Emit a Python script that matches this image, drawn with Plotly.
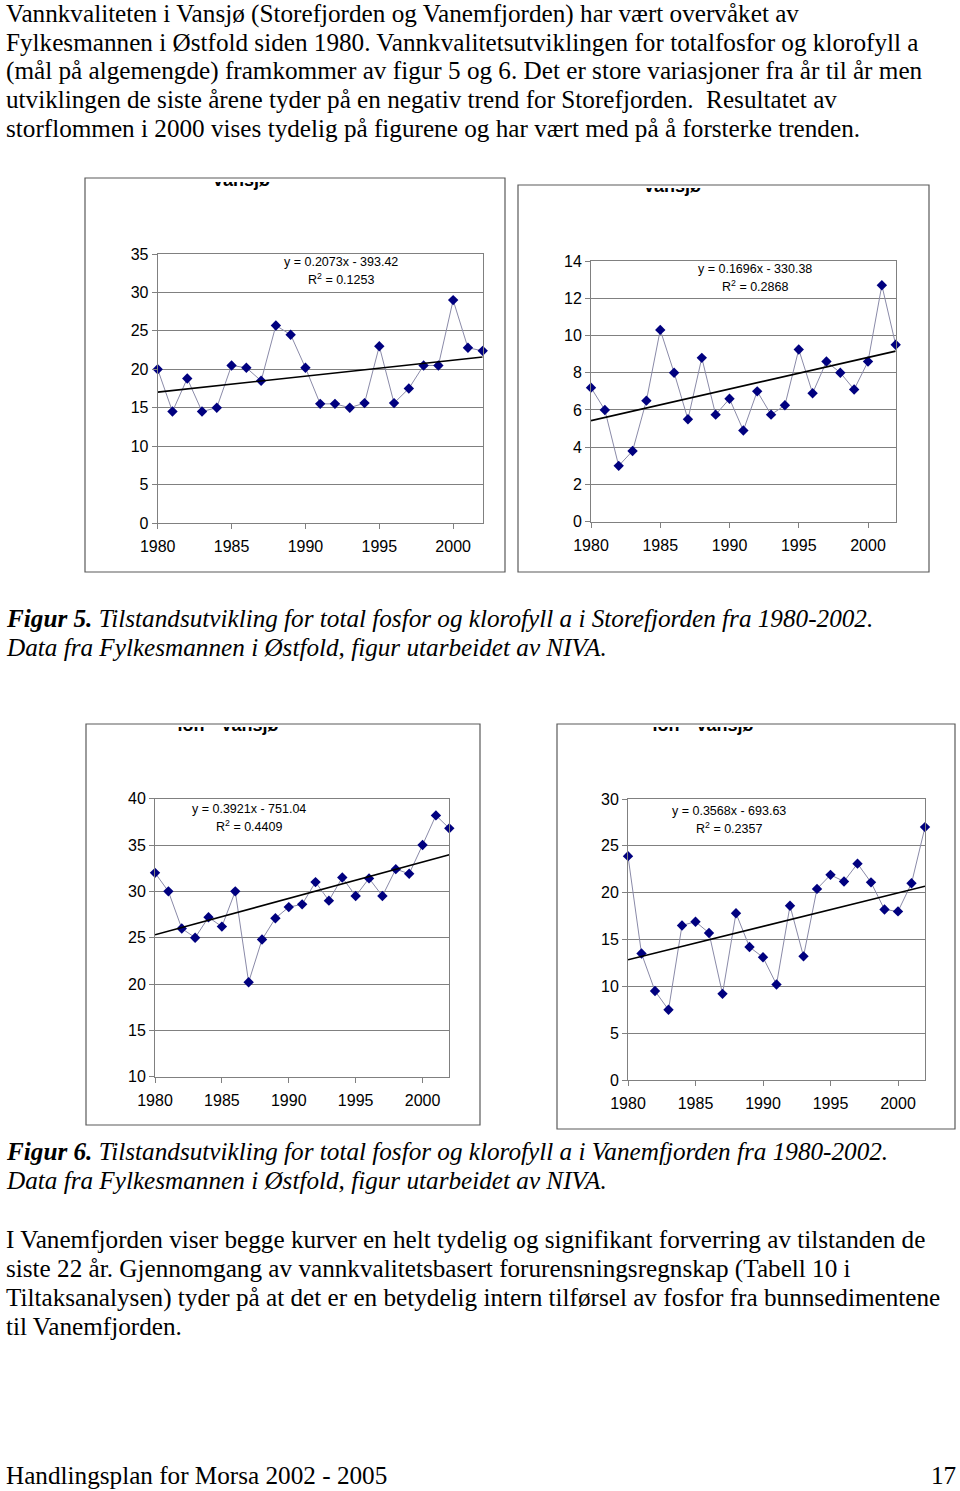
import plotly.graph_objects as go

W, H = 960, 1491

years = list(range(1980, 2003))

# Figur 5: Storefjorden
store_totp = [20.0, 14.5, 18.8, 14.5, 15.0, 20.5, 20.2, 18.5, 25.7, 24.5, 20.2, 15.5,
              15.5, 15.0, 15.6, 23.0, 15.6, 17.5, 20.5, 20.5, 29.0, 22.8, 22.4]
store_kla = [7.2, 6.0, 3.0, 3.8, 6.5, 10.3, 8.0, 5.5, 8.8, 5.75, 6.6, 4.9,
             7.0, 5.75, 6.25, 9.25, 6.9, 8.6, 8.0, 7.1, 8.6, 12.7, 9.5]
# Figur 6: Vanemfjorden
vanem_totp = [32.0, 30.0, 26.0, 25.0, 27.2, 26.2, 30.0, 20.2, 24.8, 27.1, 28.3, 28.6,
              31.0, 29.0, 31.5, 29.5, 31.4, 29.5, 32.4, 31.9, 35.0, 38.2, 36.8]
vanem_kla = [23.9, 13.5, 9.5, 7.5, 16.5, 16.9, 15.7, 9.2, 17.8, 14.2, 13.1, 10.2,
             18.6, 13.2, 20.4, 21.9, 21.2, 23.1, 21.1, 18.2, 18.0, 21.0, 27.0]

# trend line coefficients (slope, intercept) and R^2 as printed
trend_slope = [0.2073, 0.1696, 0.3921, 0.3568]
trend_icept = [-393.42, -330.38, -751.04, -693.63]
trend_r2 = ["0.1253", "0.2868", "0.4409", "0.2357"]

y_ranges = [[0, 35], [0, 14], [10, 40], [0, 30]]
y_dticks = [5, 2, 5, 5]
x_ticks = [1980, 1985, 1990, 1995, 2000]

chart_titles = ["Vansjø", "Vansjø", "ion - Vansjø", "ion - Vansjø"]

para1 = [
    "Vannkvaliteten i Vansjø (Storefjorden og Vanemfjorden) har vært overvåket av",
    "Fylkesmannen i Østfold siden 1980. Vannkvalitetsutviklingen for totalfosfor og klorofyll a",
    "(mål på algemengde) framkommer av figur 5 og 6. Det er store variasjoner fra år til år men",
    "utviklingen de siste årene tyder på en negativ trend for Storefjorden.  Resultatet av",
    "storflommen i 2000 vises tydelig på figurene og har vært med på å forsterke trenden.",
]
cap5 = [
    "<b><i>Figur 5.</i></b><i> Tilstandsutvikling for total fosfor og klorofyll a i Storefjorden fra 1980-2002.</i>",
    "<i>Data fra Fylkesmannen i Østfold, figur utarbeidet av NIVA.</i>",
]
cap6 = [
    "<b><i>Figur 6.</i></b><i> Tilstandsutvikling for total fosfor og klorofyll a i Vanemfjorden fra 1980-2002.</i>",
    "<i>Data fra Fylkesmannen i Østfold, figur utarbeidet av NIVA.</i>",
]
para2 = [
    "I Vanemfjorden viser begge kurver en helt tydelig og signifikant forverring av tilstanden de",
    "siste 22 år. Gjennomgang av vannkvalitetsbasert forurensningsregnskap (Tabell 10 i",
    "Tiltaksanalysen) tyder på at det er en betydelig intern tilførsel av fosfor fra bunnsedimentene",
    "til Vanemfjorden.",
]
footer_left = "Handlingsplan for Morsa 2002 - 2005"
footer_right = "17"

series = [store_totp, store_kla, vanem_totp, vanem_kla]

# layout (pixels): plot area, outer box, equation position, title strip
plots = [
    dict(pl=157.7, pr=482.7, pt=254, pb=523, box=(85, 178, 505, 572), eq=(341, 262), tx=241, clip=182),
    dict(pl=591, pr=895.7, pt=261, pb=521.7, box=(518, 185, 929, 572), eq=(755, 269), tx=672, clip=188),
    dict(pl=155, pr=449.3, pt=798.7, pb=1076.7, box=(86, 724, 480, 1125), eq=(249, 809), tx=228, clip=727),
    dict(pl=628, pr=925, pt=799, pb=1080, box=(557, 724, 955, 1129), eq=(729, 811), tx=703, clip=727),
]


def fx(x):
    return x / W


def fy(y):
    return 1 - y / H


fig = go.Figure()
shapes = []
annotations = []
AX = "Liberation Sans"

for i, p in enumerate(plots):
    n = i + 1
    xa = "x" if n == 1 else f"x{n}"
    ya = "y" if n == 1 else f"y{n}"
    vals = series[i]
    fig.add_trace(go.Scatter(
        x=years, y=vals, mode="lines+markers", xaxis=xa, yaxis=ya,
        line=dict(color="#8a8aa8", width=1),
        marker=dict(symbol="diamond", size=8, color="#00007f"),
        cliponaxis=False, showlegend=False, hoverinfo="x+y"))
    tx = [years[0], years[-1]]
    ty = [trend_slope[i] * v + trend_icept[i] for v in tx]
    fig.add_trace(go.Scatter(
        x=tx, y=ty, mode="lines", xaxis=xa, yaxis=ya,
        line=dict(color="black", width=1.6), showlegend=False, hoverinfo="skip"))

    axcommon = dict(showline=True, linecolor="#808080", linewidth=1, mirror=True,
                    ticks="outside", ticklen=5, tickcolor="#808080", zeroline=False,
                    automargin=False,
                    tickfont=dict(family=AX, size=16, color="black"))
    fig.update_layout(**{
        ("xaxis" if n == 1 else f"xaxis{n}"): dict(
            domain=[fx(p["pl"]), fx(p["pr"])], range=[1980, 2002],
            tickvals=x_ticks, showgrid=False, anchor=ya, ticklabelstandoff=4, **axcommon),
        ("yaxis" if n == 1 else f"yaxis{n}"): dict(
            domain=[fy(p["pb"]), fy(p["pt"])], range=y_ranges[i], dtick=y_dticks[i],
            showgrid=True, gridcolor="#808080", gridwidth=1, anchor=xa, **axcommon),
    })

    # clipped chart title strip
    m = n + 4
    bx0, by0, bx1, by1 = p["box"]
    fig.add_trace(go.Scatter(
        x=[p["tx"]], y=[p["clip"] - 0.5], mode="text", text=[f"<b>{chart_titles[i]}</b>"],
        textfont=dict(family=AX, size=18, color="black"),
        xaxis=f"x{m}", yaxis=f"y{m}", cliponaxis=True, showlegend=False, hoverinfo="skip"))
    fig.update_layout(**{
        f"xaxis{m}": dict(domain=[fx(bx0 + 1), fx(bx1 - 1)], range=[bx0 + 1, bx1 - 1],
                          visible=False, automargin=False, anchor=f"y{m}"),
        f"yaxis{m}": dict(domain=[fy(p["clip"] + 30), fy(p["clip"])],
                          range=[p["clip"] + 30, p["clip"]], visible=False,
                          automargin=False, anchor=f"x{m}"),
    })

    shapes.append(dict(type="rect", xref="paper", yref="paper",
                       x0=fx(bx0), x1=fx(bx1), y0=fy(by1), y1=fy(by0),
                       line=dict(color="#5a5a5a", width=1.2), layer="below"))
    ex, ey = p["eq"]
    sign = "-" if trend_icept[i] < 0 else "+"
    annotations.append(dict(
        xref="paper", yref="paper", x=fx(ex), y=fy(ey), xanchor="center", yanchor="middle",
        text=f"y = {trend_slope[i]}x {sign} {abs(trend_icept[i])}", showarrow=False,
        font=dict(family=AX, size=12.5, color="black")))
    annotations.append(dict(
        xref="paper", yref="paper", x=fx(ex), y=fy(ey + 17), xanchor="center", yanchor="middle",
        text=f"R<sup>2</sup> = {trend_r2[i]}", showarrow=False,
        font=dict(family=AX, size=12.5, color="black")))

SERIF = "Liberation Serif"
FS = 25.2


def add_lines(lines, y0, step, size):
    for k, t in enumerate(lines):
        annotations.append(dict(
            xref="paper", yref="paper", x=fx(4), y=fy(y0 + k * step), xanchor="left",
            yanchor="middle", text=t, showarrow=False,
            font=dict(family=SERIF, size=size, color="black")))


add_lines(para1, 13.5, 28.8, FS)
add_lines(cap5, 618.5, 29, FS)
add_lines(cap6, 1151.5, 29, FS)
add_lines(para2, 1239.5, 29, FS)
annotations.append(dict(xref="paper", yref="paper", x=fx(4), y=fy(1475), xanchor="left",
                        yanchor="middle", text=footer_left, showarrow=False,
                        font=dict(family=SERIF, size=FS, color="black")))
annotations.append(dict(xref="paper", yref="paper", x=fx(958), y=fy(1475), xanchor="right",
                        yanchor="middle", text=footer_right, showarrow=False,
                        font=dict(family=SERIF, size=FS, color="black")))

fig.update_layout(width=W, height=H, autosize=False,
                  margin=dict(l=0, r=0, t=0, b=0, pad=0),
                  paper_bgcolor="white", plot_bgcolor="white",
                  shapes=shapes, annotations=annotations, showlegend=False)

fig.write_html("out.html", config={"displayModeBar": False},
               post_script="document.body.style.margin='0';"
                           "document.body.style.overflow='hidden';")
